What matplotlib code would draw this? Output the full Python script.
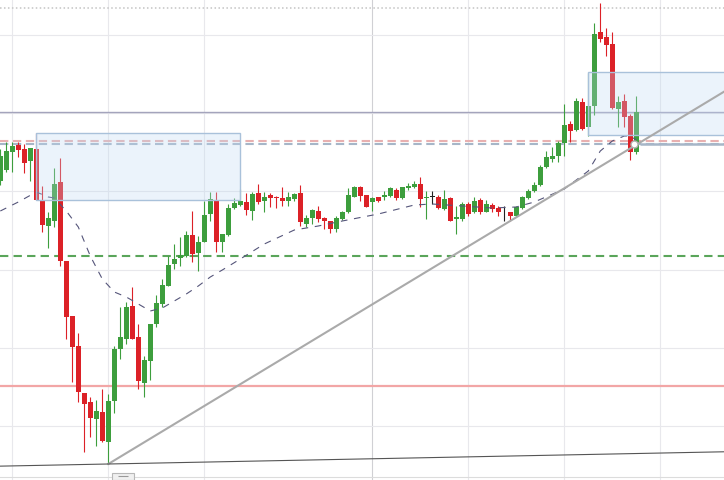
import matplotlib.pyplot as plt
from matplotlib.patches import Rectangle
import numpy as np

# prix des bougies (unites arbitraires)
opens = [299.3, 310.3, 328.5, 335.3, 331, 318.7, 331, 280.3, 254.3, 259.3,
         298.3, 218.7, 163.7, 133.7, 86.7, 77.7, 61, 67.7, 37.7, 79.3,
         131, 141, 174, 142.7, 97.5, 119.3, 156, 176, 194.3, 216,
         221.7, 223.7, 245, 226.7, 238.3, 266, 279.3, 237.7, 245, 271.7,
         275, 277.7, 269.3, 286.7, 279.3, 285, 283.3, 281.7, 279.3, 281,
         286.7, 256, 261.7, 268.7, 261.7, 258.7, 251, 261, 267.7, 283.3,
         293.3, 285.3, 277.7, 282.7, 283.3, 284.3, 290.3, 282, 292, 293.3,
         296, 282, 283, 283.3, 271, 281.7, 261, 261.5, 276, 268,
         279.7, 268.3, 275.3, 271.7, 267.7, 267.7, 263.7, 271.7, 282, 289.3,
         295.3, 312.7, 321, 323.7, 336.7, 356, 350.3, 377.7, 352.7, 374.3,
         447.7, 442.7, 436, 371, 378.7, 363.7, 328.3]
highs = [331, 337.7, 338, 338.3, 336, 332, 347, 293.7, 267.7, 311.7,
         321.7, 218.7, 163.7, 147, 86.7, 82.7, 80, 91, 86, 134.3,
         172.7, 178, 193, 156, 124.5, 156, 185, 201, 223.7, 236,
         242.7, 249.3, 269.3, 244.3, 279.3, 288.3, 288.3, 246, 276, 281.7,
         291, 286.7, 287.7, 296, 287.7, 286.7, 284.3, 292.7, 287.7, 286.7,
         295.3, 265.3, 271, 273.7, 262.7, 258.7, 264.3, 268.7, 292, 294.3,
         294.3, 285.3, 282.7, 283.3, 288.7, 292.7, 292, 293.3, 296.7, 298.7,
         302.7, 289.3, 289.3, 285, 290, 283.3, 274.3, 277.7, 277.7, 283.3,
         281.7, 280, 277, 274.3, 273.7, 267.7, 274.3, 284.3, 291, 297.7,
         315, 329.3, 332.7, 339.3, 376, 359.3, 381.7, 381.7, 407, 457,
         477, 451.7, 447.7, 383.7, 386, 366, 383.7]
lows = [295, 308, 308.5, 323, 307, 299.5, 280.3, 247.7, 231.7, 252.7,
        213.7, 141, 97.7, 78.3, 28.3, 42.7, 34.3, 37.7, 16, 67,
        121, 136, 141, 91, 82.7, 100.5, 152.7, 172.7, 194.3, 211,
        214.3, 222.7, 218.3, 209.3, 238.3, 259.3, 227.7, 227.7, 244.3, 271,
        274.3, 265.3, 260, 276, 267.7, 272.7, 271.7, 274.3, 274.3, 278.7,
        254.3, 252.7, 256, 257.7, 251, 246.7, 247.7, 260, 266.7, 282.7,
        279.3, 272.7, 268.7, 277.7, 280, 283.3, 280, 281, 290, 292,
        273.3, 261, 276, 271, 270, 258.7, 246, 259.3, 264.3, 266.7,
        266, 267.7, 267.7, 264.3, 259.3, 259.3, 262.7, 271, 281, 288.3,
        294.3, 311.7, 317.7, 317.7, 324.3, 338.3, 349.3, 350.3, 344.3, 365,
        438.3, 423.7, 371, 353.3, 352.7, 320.3, 326]
closes = [324.3, 328.7, 333.7, 330.3, 316.7, 331.7, 280.3, 255.3, 261.7, 296,
          219.3, 162.7, 133.3, 87.7, 76, 61.7, 69.3, 39.3, 79.3, 131,
          142.7, 172.7, 141, 98.7, 120, 156, 176.7, 195, 215, 221,
          225, 245, 226, 238.3, 265, 281, 238.3, 246, 271.7, 276.7,
          279.5, 270.3, 286, 277.7, 283.3, 282, 282, 279.3, 282.7, 286,
          257.7, 261.7, 270, 261, 259.3, 251, 261.7, 267.7, 285.3, 293.3,
          284.3, 273.3, 282, 279.3, 285, 292, 282, 292.7, 294.3, 296,
          281, 282.7, 283, 271.7, 281, 259.3, 262.7, 276, 266, 279.3,
          268.5, 276, 271, 267.7, 267.7, 264.3, 272.7, 282.7, 289.3, 295,
          313.3, 322.7, 324.3, 336.7, 355, 349.3, 379.3, 351, 374.3, 446,
          441, 435, 371.7, 377.7, 362.7, 328.3, 367.7]

# moyenne mobile
ma_idx = [0, 3, 6, 8, 9, 11, 13, 15, 17, 19, 21, 23, 25, 27, 29, 31, 33, 35, 37,
          40, 44, 49, 53, 57, 63, 69, 72, 77, 82, 86, 89, 94, 98, 100, 102, 104,
          105, 106]
ma_val = [269, 278, 288, 283, 282, 269, 253, 224, 201, 188, 183, 176, 169, 172,
          179, 186, 194, 203, 210, 221, 236, 250, 254, 259, 266, 275, 276, 274,
          272, 273, 278, 291, 309, 329, 339, 344, 344, 340]

# niveaux horizontaux
niveau_pointille = 472
niveau_gris = 368
niveau_rose = 339.3
niveau_bleu = 336
niveau_vert = 223.7
niveau_rouge = 93.7

# zones (debut, fin, bas, haut)
zone1 = (6, 40, 280, 346.7)
zone2 = (98, 130, 345, 407.7)

# lignes de tendance : deux points (indice, prix)
tendance = [(18, 16), (86, 262.7)]
support = [(18, 16), (60, 21)]

grille_x = [2, 18, 34, 78, 94, 110]
separateur_x = 62
grille_y = [53.7, 132, 210.3, 288.7, 367, 445]

n = len(opens)
x = np.arange(n)

fig = plt.figure(figsize=(7.24, 4.81), dpi=100)
ax = fig.add_axes([0, 0, 1, 1])
ax.set_xlim(-0.05, 120.62)
ax.set_ylim(0, 481)
ax.axis('off')

# grille
for gx in grille_x:
    ax.axvline(gx, color='#e8e8ec', lw=0.8, zorder=0)
ax.axvline(separateur_x, color='#d0d0d4', lw=0.8, zorder=0)
for gy in grille_y:
    ax.axhline(gy, color='#e8e8ec', lw=0.8, zorder=0)
ax.axhline(3.3, color='#dcdcdc', lw=0.8, zorder=0)

# bougies
vert = '#3d9e3d'
rouge = '#dc2127'
for i in range(n):
    o, h, l, c = opens[i], highs[i], lows[i], closes[i]
    if c > o:
        col = vert
    elif c < o:
        col = rouge
    else:
        col = '#222222'
    ax.vlines(i, l, h, color=col, lw=0.8, zorder=3)
    bas = min(o, c)
    haut = max(abs(c - o), 0.8)
    ax.bar(i, haut, bottom=bas, width=0.78, color=col, edgecolor='none', zorder=3)

# moyenne mobile
ax.plot(ma_idx, ma_val, color='#55557a', lw=0.8, linestyle=(0, (6, 6)), zorder=4)

# zones
for (d, f, b, t) in [zone1, zone2]:
    ax.add_patch(Rectangle((d, b), f - d, t - b, facecolor=(0.75, 0.85, 0.95, 0.3),
                           edgecolor='#a9c1da', lw=1, zorder=5))

# niveaux
ax.axhline(niveau_pointille, color='#c4c4c4', lw=1.1, linestyle=(0, (1, 1.6)), zorder=2)
ax.axhline(niveau_gris, color='#a4a4bc', lw=1.0, zorder=2)
ax.axhline(niveau_rose, color='#e8b0b0', lw=1.5, linestyle=(0, (4, 2.2)), zorder=2)
ax.axhline(niveau_bleu, color='#a6b6c8', lw=1.5, linestyle=(0, (4, 2.2)), zorder=2)
ax.hlines(niveau_bleu, 106.6, 121, color='#a6b6c8', lw=1.8, zorder=2)
ax.axhline(niveau_vert, color='#5aa55a', lw=1.5, linestyle=(0, (4, 2.5)), zorder=2)
ax.axhline(niveau_rouge, color='#f2a6a6', lw=1.6, zorder=2)

# tendances
(x1, y1), (x2, y2) = tendance
pente = (y2 - y1) / (x2 - x1)
xs = np.array([x1, 121])
ax.plot(xs, y1 + pente * (xs - x1), color='#aaaaaa', lw=1.5, zorder=6)
(x1, y1), (x2, y2) = support
ax.axline((x1, y1), (x2, y2), color='#555555', lw=0.8, zorder=6)

# point d'intersection
ax.plot(105.7, niveau_bleu, 'o', ms=5, mfc='white', mec='#b0b0b0', mew=1, zorder=7)

# poignee en bas
ax.add_patch(Rectangle((18.6, 0), 3.7, 7.5, facecolor='#f0f0f0', edgecolor='#b8b8b8', lw=0.8, zorder=7))
ax.hlines(3.8, 19.6, 21.3, color='#999999', lw=0.8, zorder=8)

fig.savefig('out.png', dpi=100)
